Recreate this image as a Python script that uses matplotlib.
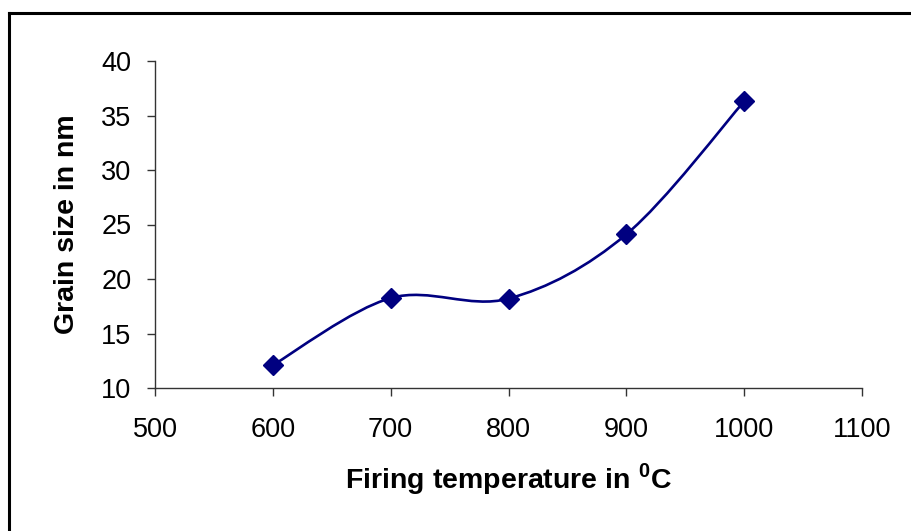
import matplotlib
matplotlib.use("Agg")
import matplotlib.pyplot as plt
from matplotlib.path import Path
from matplotlib.patches import PathPatch
from matplotlib.lines import Line2D
import numpy as np

temperature = [600, 700, 800, 900, 1000]
grain_size = [12.1, 18.25, 18.2, 24.1, 36.3]
x_ticks = [500, 600, 700, 800, 900, 1000, 1100]
y_ticks = [10, 15, 20, 25, 30, 35, 40]

plt.rcParams['font.family'] = ['Liberation Sans', 'DejaVu Sans']
plt.rcParams['mathtext.fontset'] = 'custom'
plt.rcParams['mathtext.rm'] = 'Liberation Sans'
plt.rcParams['mathtext.bf'] = 'Liberation Sans:bold'

navy = '#000080'

fig = plt.figure(figsize=(9.12, 5.31), dpi=100)
ax = fig.add_axes([155/912, 1-388/531, (862-155)/912, (388-61)/531])

# Excel-like smoothed line: cubic Bezier segments through the data points
xs = np.array(temperature, dtype=float)
ys = np.array(grain_size, dtype=float)
n = len(xs)
verts = [(xs[0], ys[0])]
codes = [Path.MOVETO]
for i in range(n - 1):
    i0 = max(i - 1, 0)
    i3 = min(i + 2, n - 1)
    c1 = (xs[i] + (xs[i+1] - xs[i0]) / 6, ys[i] + (ys[i+1] - ys[i0]) / 6)
    c2 = (xs[i+1] - (xs[i3] - xs[i]) / 6, ys[i+1] - (ys[i3] - ys[i]) / 6)
    verts += [c1, c2, (xs[i+1], ys[i+1])]
    codes += [Path.CURVE4] * 3
ax.add_patch(PathPatch(Path(verts, codes), fill=False, edgecolor=navy, lw=1.9,
                       transform=ax.transData, zorder=2))
ax.plot(temperature, grain_size, linestyle='none', marker='D', markersize=10,
        color=navy, zorder=3)

ax.set_xlim(500, 1100)
ax.set_ylim(10, 40)
ax.set_xticks(x_ticks)
ax.set_yticks(y_ticks)
ax.set_xticklabels([str(v) for v in x_ticks], fontsize=19.5)
ax.set_yticklabels([str(v) for v in y_ticks], fontsize=19.5)
for s in ['top', 'right']:
    ax.spines[s].set_visible(False)
for s in ['left', 'bottom']:
    ax.spines[s].set_color('#333333')
    ax.spines[s].set_linewidth(1.0)
ax.tick_params(direction='out', length=6, width=1.0, color='#333333')
ax.tick_params(axis='x', pad=15)
ax.tick_params(axis='y', pad=11)

ax.set_xlabel(r"Firing temperature in $^{\mathbf{0}}$C", fontsize=20.5,
              fontweight='bold', labelpad=13)
ax.set_ylabel("Grain size in nm", fontsize=20.5, fontweight='bold', labelpad=15)

# outer chart border (top and left visible)
fig.add_artist(Line2D([9.5/912, 9.5/912], [0, 1-12.5/531], transform=fig.transFigure,
                      color='black', lw=2.2))
fig.add_artist(Line2D([9.5/912, 1], [1-12.5/531, 1-12.5/531], transform=fig.transFigure,
                      color='black', lw=2.2))

fig.savefig('out.png', dpi=100)
